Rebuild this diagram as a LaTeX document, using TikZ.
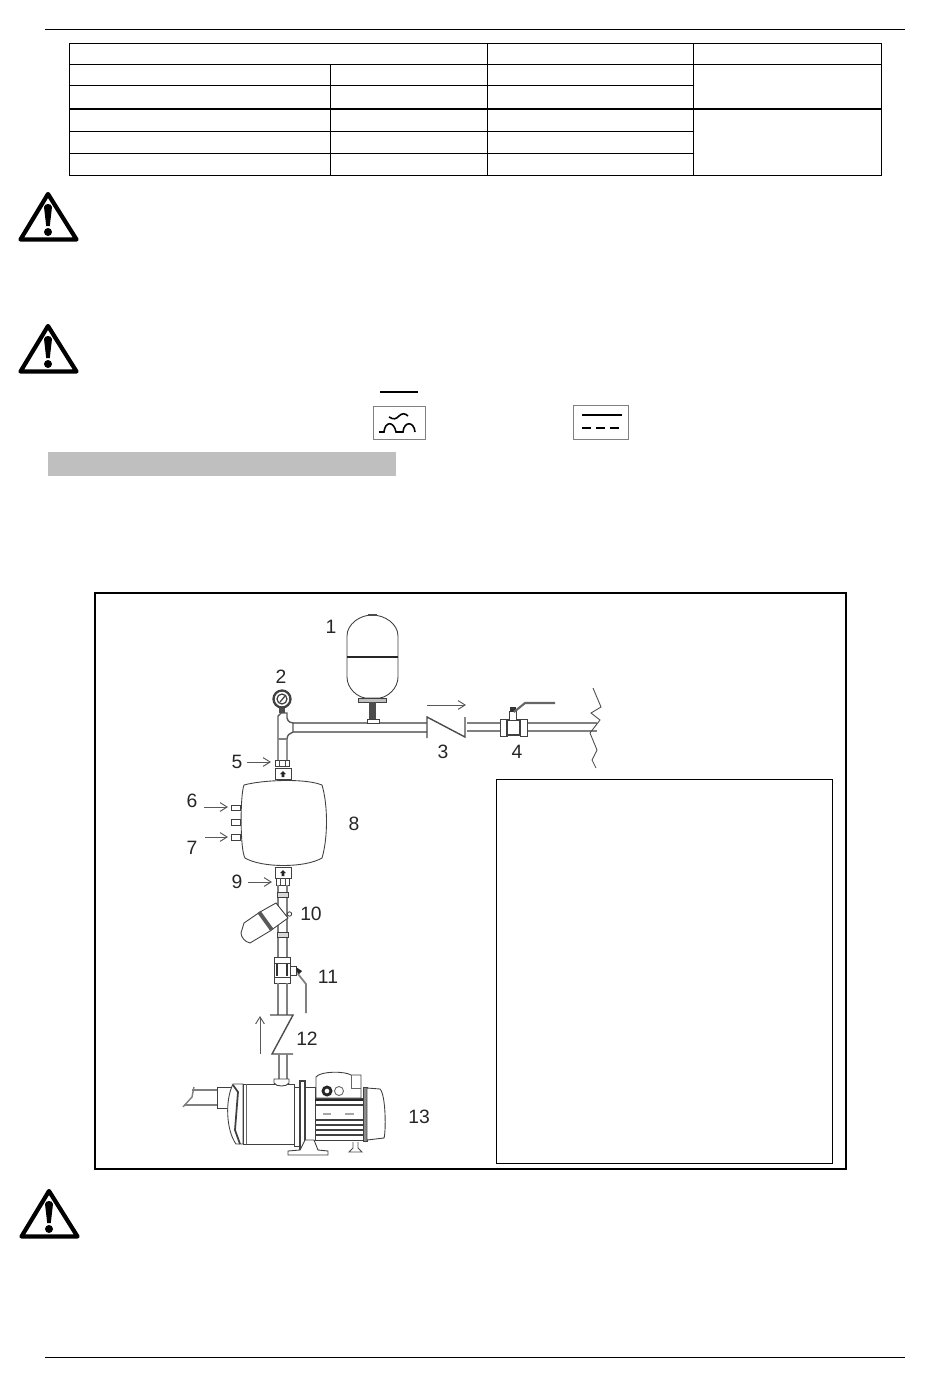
\documentclass[tikz,border=0pt]{standalone}
\usepackage{fontspec}
\setmainfont{Liberation Sans}
\usetikzlibrary{arrows.meta}
\tikzset{
  numlab/.style={inner sep=1pt, font=\fontsize{11}{13}\selectfont, text=black!85},
  rule/.style={line width=0.5pt, draw=black},
  pipe/.style={line width=0.8pt, draw=black!50},
  part/.style={line width=0.5pt, draw=black!75, fill=white},
  ptr/.style={line width=0.55pt, draw=black!65, -{Straight Barb[length=4pt,width=5pt]}},
  valveline/.style={line width=0.8pt, draw=black!70},
  symbolbox/.style={line width=0.5pt, draw=black!50},
}
\begin{document}
\begin{tikzpicture}[x=0.02cm, y=-0.02cm]
  \useasboundingbox (0,0) rectangle (950,1387);
  % Page rules
  \draw[rule] (45,29) -- (905,29);
  \draw[rule] (45,1357) -- (905,1357);
  % Table
  \draw[rule] (69,43) rectangle (881,175);
  \draw[rule] (69,64) -- (881,64);
  \draw[rule] (69,85) -- (693,85);
  \draw[line width=1.3pt] (69,109) -- (881,109);
  \draw[rule] (69,131) -- (693,131);
  \draw[rule] (69,153) -- (693,153);
  \draw[rule] (330,64) -- (330,175);
  \draw[rule] (487,43) -- (487,175);
  \draw[rule] (693,43) -- (693,175);
  % Warning signs
  \foreach \tx/\ty in {0/0, 0/132, 1/997} {
    \begin{scope}[shift={(\tx,\ty)}]
      \draw[line width=2.4pt, line join=round] (48,194) -- (76.5,239.5) -- (20.5,239.5) -- cycle;
      \fill (44,207) .. controls (44.5,203) and (51.5,203) .. (52,207) -- (49.8,226) -- (46.2,226) -- cycle;
      \fill (48,232) circle (4);
    \end{scope}
  }
  % Symbols
  \draw[line width=0.9pt] (380,392) -- (418,392);
  \draw[symbolbox] (373,406) rectangle (425,439);
  \draw[line width=0.9pt] (389,417) .. controls (394,420) and (396,419) .. (399,416)
    .. controls (402,413) and (405,413) .. (408,416);
  \draw[line width=0.9pt] (379,432) -- (384,432) .. controls (385,421) and (394,421) .. (396,432)
    -- (403,432) .. controls (404,421) and (414,421) .. (415,432);
  \draw[symbolbox] (573,405) rectangle (628,439);
  \draw[line width=0.8pt] (582,415) -- (622,415);
  \draw[line width=1pt, dash pattern=on 5pt off 3pt] (582,428) -- (622,428);
  % Heading bar
  \fill[black!25] (48,452) rectangle (396,476);
  % Frame and legend box
  \draw[line width=1.1pt] (95,593) rectangle (846,1169);
  \draw[line width=0.55pt] (496,779) rectangle (832,1163);

  % Delivery pipe
  \draw[pipe] (293,723) -- (427,723);
  \draw[pipe] (293,732) -- (427,732);
  \draw[pipe] (467,723) -- (597,723);
  \draw[pipe] (467,731) -- (597,731);
  \draw[pipe, black!65] (278,760) -- (278,716) -- (281,713) -- (287,713) -- (287,718)
    .. controls (288,722) and (291,723) .. (293,723) -- (293,732);
  \draw[pipe, black!65] (287,760) -- (287,739) .. controls (287,735) and (290,733) .. (293,732);
  \draw[pipe] (278,739) -- (287,739);
  % Vessel 1
  \draw[part] (347,636) .. controls (347,624) and (360,615) .. (372,615)
    .. controls (385,615) and (398,624) .. (398,636) -- (398,677)
    .. controls (398,689) and (387,697) .. (380,698) -- (365,698)
    .. controls (358,697) and (347,689) .. (347,677) -- cycle;
  \draw[line width=1.5pt, black!85] (347,657) -- (398,657);
  \fill[black!70] (368,616) rectangle (377,614);
  \draw[part, fill=black!25] (358,698) rectangle (386,702);
  \fill[black!70] (369,702) rectangle (376,719);
  \draw[part] (367,719) rectangle (379,723);
  % Gauge 2
  \draw[line width=1.3pt, black!75, fill=white] (282,699) circle (8.5);
  \draw[line width=0.7pt, black!75] (282,699) circle (5);
  \draw[line width=0.7pt, black!75] (280,702) -- (285,696);
  \fill[black!70] (279,708) rectangle (285,713);
  % Check valve 3
  \draw[ptr] (427,705) -- (466,705);
  \draw[valveline] (427,738) -- (427,717) -- (465,737) -- (465,717);
  % Ball valve 4
  \draw[part] (500,719) rectangle (507,736);
  \draw[part] (520,719) rectangle (527,736);
  \draw[line width=0.9pt, black!75, fill=white] (507,720) rectangle (520,735);
  \draw[part] (509,711) rectangle (516,720);
  \fill[black!80] (510,707) rectangle (516,712);
  \draw[line width=1.2pt, black!60] (514,712) -- (525,703) -- (555,703);
  % Pipe break
  \draw[line width=0.5pt, black!70] (593,688) -- (601,707) -- (591,713) -- (600,720)
    -- (590,733) -- (597,750) -- (592,760) -- (596,768);
  % Fittings above the unit
  \draw[part] (275,760) rectangle (289,766);
  \draw[line width=0.5pt, black!70] (279,760) -- (279,766);
  \draw[line width=0.5pt, black!70] (285,760) -- (285,766);
  \draw[part] (275,768) rectangle (291,779);
  \fill[black!85] (283,771) -- (286,774) -- (284.3,774) -- (284.3,777) -- (281.7,777) -- (281.7,774) -- (280,774) -- cycle;
  % Unit 8
  \draw[part] (231,805) rectangle (240,810);
  \draw[part] (231,819) rectangle (240,825);
  \draw[part] (231,834) rectangle (240,840);
  \draw[part] (244,785) .. controls (262,780) and (305,778) .. (322,785)
    .. controls (328,805) and (328,838) .. (322,858)
    .. controls (305,868) and (262,868) .. (245,858)
    .. controls (240,850) and (240,795) .. (244,785) -- cycle;
  % Fittings below the unit
  \draw[part] (275,867) rectangle (291,878);
  \fill[black!85] (283,870) -- (286,873) -- (284.3,873) -- (284.3,876) -- (281.7,876) -- (281.7,873) -- (280,873) -- cycle;
  \draw[part] (276,878) rectangle (289,885);
  \draw[line width=0.5pt, black!70] (280,878) -- (280,885);
  \draw[line width=0.5pt, black!70] (285,878) -- (285,885);
  \draw[pipe] (278,885) -- (278,957);
  \draw[pipe] (287,885) -- (287,957);
  \draw[part, fill=black!15] (277,892) rectangle (288,897);
  \draw[part, fill=black!15] (277,932) rectangle (288,937);
  % Filter 10
  \draw[part] (276,903) -- (288,918) -- (270,931) -- (250,943) .. controls (245,942) and (241,937) .. (241,933)
    -- (244,923) -- (260,912) -- cycle;
  \draw[line width=2.2pt, black!65] (259,912) -- (272,930);
  \draw[part] (289.5,914) circle (2.2);
  % Ball valve 11
  \draw[part] (274,957) rectangle (290,963);
  \draw[part] (274,963) rectangle (290,977);
  \draw[line width=1.6pt, black!80] (277,964) -- (277,976);
  \draw[line width=1.6pt, black!80] (287,964) -- (287,976);
  \draw[part] (274,977) rectangle (290,983);
  \draw[part] (290,966) rectangle (296,975);
  \fill[black!85] (296,967) -- (302,971) -- (298,975) -- cycle;
  \draw[line width=1pt, black!50] (298,974) -- (306,984) -- (306,1013);
  \draw[pipe] (278,983) -- (278,1015);
  \draw[pipe] (287,983) -- (287,1015);
  % Check valve 12
  \draw[ptr] (260,1054) -- (260,1016);
  \draw[valveline] (270,1015) -- (293,1015) -- (272,1054) -- (293,1054);
  \draw[pipe] (279,1054) -- (279,1079);
  \draw[pipe] (287,1054) -- (287,1079);
  % Pump 13
  \draw[pipe] (194,1087) -- (192,1097) -- (183,1107);
  \draw[pipe] (192,1090) -- (217,1090);
  \draw[pipe] (184,1105) -- (217,1105);
  \draw[part] (217,1087) rectangle (232,1108);
  \draw[part] (233,1084) .. controls (225,1100) and (226,1130) .. (236,1144) -- (243,1144) -- (243,1084) -- cycle;
  \draw[line width=1pt, black!75] (233,1085) -- (238,1092) -- (235,1130) -- (240,1144);
  \draw[part] (243,1084) rectangle (294,1144);
  \draw[line width=0.5pt, black!60] (246,1084) -- (246,1144);
  \draw[part] (274,1079) -- (289,1079) -- (289,1083) .. controls (287,1087) and (276,1087) .. (274,1083) -- cycle;
  \draw[part] (294,1087) rectangle (300,1146);
  \draw[part, line width=0.9pt] (300,1081) rectangle (305,1150);
  \draw[part] (305,1087) rectangle (315,1140);
  \draw[part] (288,1155) -- (328,1155) -- (328,1151) -- (318,1150) -- (314,1140) -- (305,1140) -- (300,1150) -- (288,1151) -- cycle;
  \draw[part] (315,1098) rectangle (363,1140);
  \foreach \ry in {1105,1120,1125,1130,1135} {
    \draw[line width=0.6pt, black!75] (315,\ry) -- (363,\ry);
  }
  \draw[line width=1.4pt, black!85] (315,1100) -- (363,1100);
  \fill[black!35] (323,1113) rectangle (331,1115);
  \fill[black!35] (345,1113) rectangle (354,1115);
  \draw[part] (316,1098) -- (316,1077) .. controls (320,1071) and (345,1071) .. (351,1075)
    -- (361,1075) -- (361,1098) -- cycle;
  \draw[line width=0.5pt, black!60] (351,1075) -- (351,1088) -- (361,1088);
  \draw[line width=1.6pt, black!85] (327,1091) circle (4);
  \draw[line width=0.5pt, black!60] (339,1091) circle (4.5);
  \draw[part, fill=black!45] (363,1087) rectangle (367,1141);
  \draw[part] (367,1088) -- (380,1089) .. controls (386,1095) and (386,1132) .. (384,1138) -- (367,1140) -- cycle;
  \draw[line width=0.5pt, black!70] (353,1142) -- (353,1148) -- (349,1152) -- (362,1152) -- (358,1148) -- (358,1142);

  % Part numbers
  \node[numlab] (lab1) at (331,627) {1};
  \node[numlab] (lab2) at (281,677) {2};
  \node[numlab] (lab3) at (443,752) {3};
  \node[numlab] (lab4) at (517,752) {4};
  \node[numlab] (lab5) at (237,762) {5};
  \node[numlab] (lab6) at (192,801) {6};
  \node[numlab] (lab7) at (192,848) {7};
  \node[numlab] (lab8) at (354,824) {8};
  \node[numlab] (lab9) at (237,882) {9};
  \node[numlab] (lab10) at (311,914) {10};
  \node[numlab] (lab11) at (328,977) {11};
  \node[numlab] (lab12) at (307,1039) {12};
  \node[numlab] (lab13) at (419,1117) {13};
  % Pointers
  \coordinate (from5) at (247,762);
  \coordinate (to5) at (271,762);
  \coordinate (from6) at (204,807);
  \coordinate (to6) at (228,807);
  \coordinate (from7) at (205,837);
  \coordinate (to7) at (228,837);
  \coordinate (from9) at (248,882);
  \coordinate (to9) at (272,882);
  \foreach \p in {5,6,7,9} {
    \draw[ptr] (from\p) -- (to\p);
  }
\end{tikzpicture}
\end{document}
